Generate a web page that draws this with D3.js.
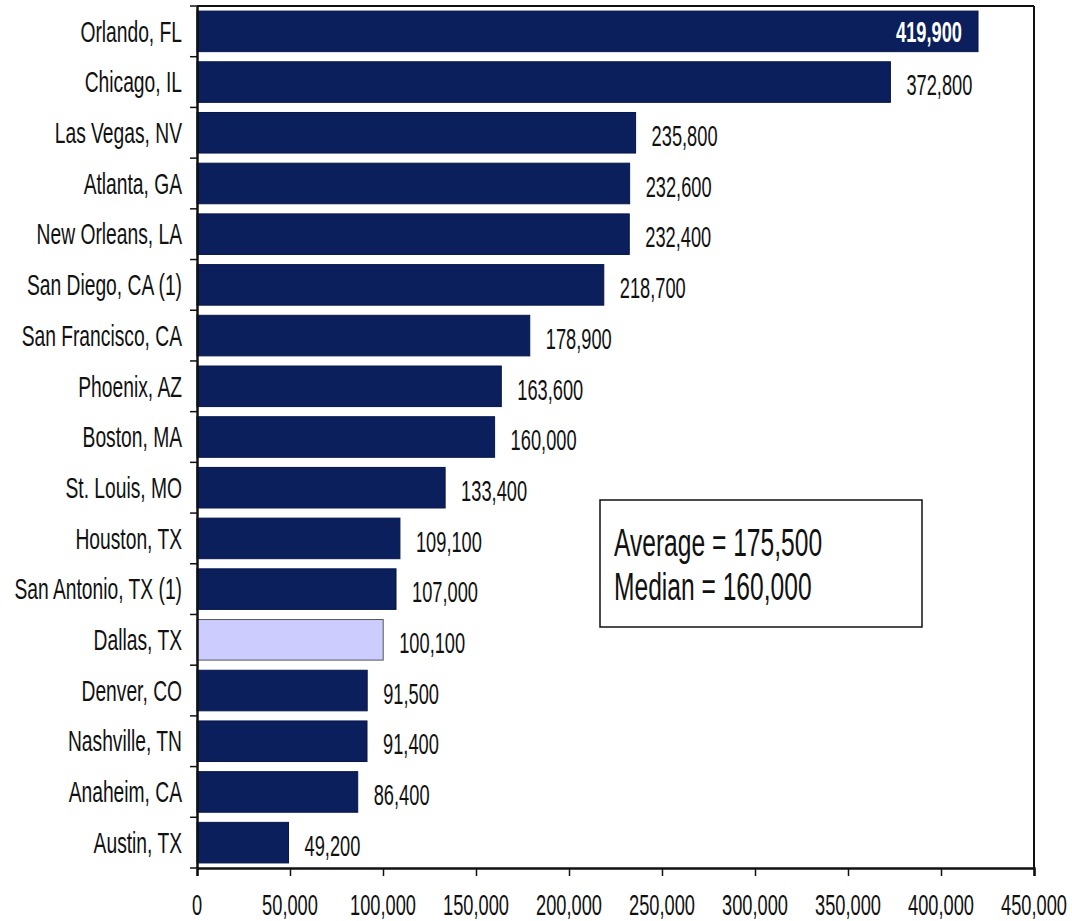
<!DOCTYPE html>
<html><head><meta charset="utf-8">
<script src="https://cdn.jsdelivr.net/npm/d3@7"></script>
<style>html,body{margin:0;padding:0;background:#fff;}svg{display:block;}</style>
</head><body>
<script>
const cities = ["Orlando, FL","Chicago, IL","Las Vegas, NV","Atlanta, GA","New Orleans, LA","San Diego, CA (1)","San Francisco, CA","Phoenix, AZ","Boston, MA","St. Louis, MO","Houston, TX","San Antonio, TX (1)","Dallas, TX","Denver, CO","Nashville, TN","Anaheim, CA","Austin, TX"];
const values = [419900,372800,235800,232600,232400,218700,178900,163600,160000,133400,109100,107000,100100,91500,91400,86400,49200];
const highlighted = ["Dallas, TX"];
const xTicks = [0,50000,100000,150000,200000,250000,300000,350000,400000,450000];
const summaryLines = ["Average = 175,500","Median = 160,000"];

(function(){
const W = 1072, H = 921;
const svg = d3.select("body").append("svg").attr("width",W).attr("height",H);
const pL = 197, pR = 1034, pT = 6, pB = 868;
const x = d3.scaleLinear().domain([0,450000]).range([pL,pR]);
const y = d3.scaleBand().domain(cities).range([pT,pB]).paddingInner(0.2).paddingOuter(0.1);
const fmt = d3.format(",");
const SY = 1.3, FF = "'Liberation Sans', Arial, sans-serif";

function label(g, tx, ty, str, size, anchor, opts={}) {
  const sx = opts.sx || 0.83;
  return g.append("text")
    .attr("transform", `translate(${tx},${ty}) scale(${sx},${SY})`)
    .attr("font-family", FF).attr("font-size", size)
    .attr("text-anchor", anchor)
    .attr("fill", opts.fill || "#111")
    .attr("font-weight", opts.weight || "normal")
    .text(str);
}
const capOff = s => 0.716*s*SY/2;

const data = cities.map((c,i)=>({c, v: values[i]}));
svg.append("g").selectAll("rect").data(data).join("rect")
  .attr("x", x(0)).attr("y", d=>y(d.c))
  .attr("width", d=>x(d.v)-x(0)).attr("height", y.bandwidth())
  .attr("fill", d=> highlighted.includes(d.c) ? "#ccccff" : "#0a1f5c")
  .attr("stroke", d=> highlighted.includes(d.c) ? "#555" : "#06164a")
  .attr("stroke-width", 1);

svg.append("line").attr("x1",pL).attr("x2",pR).attr("y1",pT).attr("y2",pT).attr("stroke","#111").attr("stroke-width",2);
svg.append("line").attr("x1",pR).attr("x2",pR).attr("y1",pT).attr("y2",pB).attr("stroke","#111").attr("stroke-width",2);

const xAxis = svg.append("g").attr("transform",`translate(0,${pB})`)
  .call(d3.axisBottom(x).tickValues(xTicks).tickSize(8).tickFormat(""));
xAxis.select(".domain").attr("stroke","#111").attr("stroke-width",2.5);
xAxis.selectAll(".tick line").attr("stroke","#111").attr("stroke-width",1.5);

const yAxis = svg.append("g").attr("transform",`translate(${pL},0)`)
  .call(d3.axisLeft(y).tickSize(0).tickFormat(""));
yAxis.select(".domain").attr("stroke","#111").attr("stroke-width",2.5);
const step = y.step();
const bounds = cities.map(c=> y(c) - step*y.paddingInner()/2).slice(1).concat([pB, pT]);
svg.append("g").selectAll("line").data(bounds).join("line")
  .attr("x1",pL-7).attr("x2",pL).attr("y1",d=>d).attr("y2",d=>d)
  .attr("stroke","#111").attr("stroke-width",1.5);

svg.append("rect").attr("x",600).attr("y",500).attr("width",322).attr("height",127)
  .attr("fill","#fff").attr("stroke","#111").attr("stroke-width",1.5);

const lab = svg.append("g");
xTicks.forEach(t=> label(lab, x(t), 905+capOff(22), fmt(t), 22, "middle"));
data.forEach(d=> label(lab, 182, y(d.c)+y.bandwidth()/2+capOff(22), d.c, 22, "end", {sx:0.875}));
data.forEach((d,i)=>{
  const cy = y(d.c)+y.bandwidth()/2;
  if (i===0) label(lab, x(d.v)-16, cy+capOff(22), fmt(d.v), 22, "end", {fill:"#fff", weight:"bold"});
  else label(lab, x(d.v)+16, cy+3+capOff(22), fmt(d.v), 22, "start");
});
summaryLines.forEach((s,i)=> label(lab, 614, 542+i*44+capOff(30), s, 30, "start", {sx:0.82}));
})();
</script>
</body></html>
